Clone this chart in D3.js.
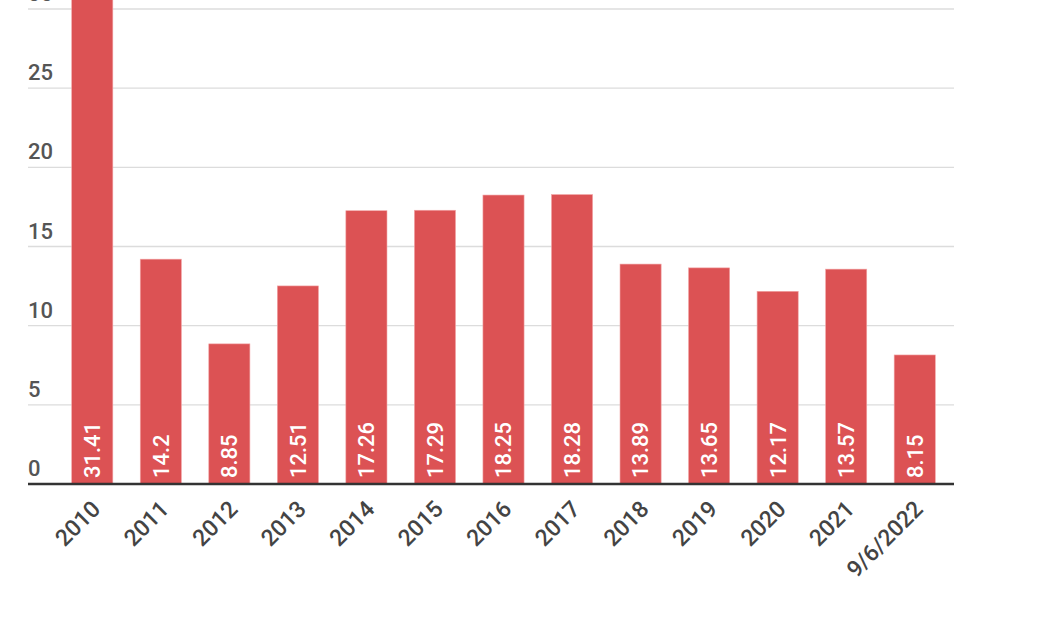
<!DOCTYPE html>
<html><head><meta charset="utf-8">
<script src="https://cdn.jsdelivr.net/npm/d3@7"></script>
<style>body{margin:0;background:#fff;overflow:hidden}svg{display:block}</style>
</head><body>
<script>
const categories = ["2010","2011","2012","2013","2014","2015","2016","2017","2018","2019","2020","2021","9/6/2022"];
const values = [31.41,14.2,8.85,12.51,17.26,17.29,18.25,18.28,13.89,13.65,12.17,13.57,8.15];
const yTicks = [0,5,10,15,20,25,30];

const W = 1050, H = 630;
const svg = d3.select("body").append("svg").attr("width", W).attr("height", H);
const font = "Roboto, 'Noto Sans', sans-serif";

const x = d3.scaleBand().domain(categories).range([58, 949]).paddingInner(0.4).paddingOuter(0.2);
const y = d3.scaleLinear().domain([0, 30]).range([484, 9]);
const gridX0 = 28, gridX1 = 954;

// grid
svg.append("g").selectAll("line").data(yTicks.filter(d => d > 0)).join("line")
  .attr("x1", gridX0).attr("x2", gridX1)
  .attr("y1", d => y(d)).attr("y2", d => y(d))
  .attr("stroke", "#dcdcdc").attr("stroke-width", 1.3);

// y labels
svg.append("g").selectAll("text").data(yTicks).join("text")
  .attr("x", gridX0).attr("y", d => y(d) - 8)
  .attr("font-family", font).attr("font-size", 22).attr("font-weight", 500)
  .attr("fill", "#555").text(d => d);

// bars
svg.append("g").selectAll("rect").data(values).join("rect")
  .attr("x", (d, i) => x(categories[i]))
  .attr("width", x.bandwidth())
  .attr("y", d => y(d))
  .attr("height", d => y(0) - y(d))
  .attr("fill", "#dc5254").attr("stroke", "#f2a5a6").attr("stroke-width", 0.6);

// value labels
svg.append("g").selectAll("text").data(values).join("text")
  .attr("transform", (d, i) => `translate(${x(categories[i]) + x.bandwidth() / 2},478) rotate(-90)`)
  .attr("dy", "0.36em")
  .attr("font-family", font).attr("font-size", 22).attr("font-weight", 500)
  .attr("fill", "#fff").text(d => d);

// zero axis line
svg.append("line").attr("x1", gridX0).attr("x2", gridX1)
  .attr("y1", y(0)).attr("y2", y(0))
  .attr("stroke", "#333").attr("stroke-width", 2.6);

// x labels
svg.append("g").selectAll("text").data(categories).join("text")
  .attr("transform", d => `translate(${x(d) + x.bandwidth() / 2 - 2},499) rotate(-45)`)
  .attr("text-anchor", "end").attr("dy", "0.71em")
  .attr("font-family", font).attr("font-size", 23).attr("font-weight", 500)
  .attr("fill", "#444").text(d => d);
</script>
</body></html>
